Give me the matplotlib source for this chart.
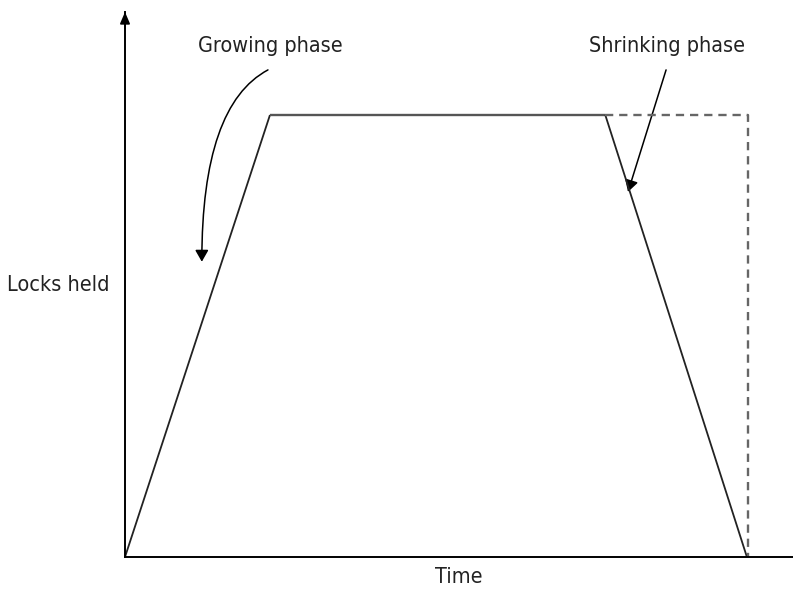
import matplotlib
matplotlib.use("Agg")
import matplotlib.pyplot as plt
from matplotlib.patches import FancyArrowPatch

plt.rcParams['font.family'] = ['DejaVu Sans']
plt.rcParams['font.stretch'] = 'condensed'

# Two-phase locking profile: locks acquired, held, then released
time_pts = [0.0, 2.17, 7.19, 9.31]
locks_pts = [0.0, 5.0, 5.0, 0.0]

# Alternative (strict) release: all locks held until the end
strict_time = [7.19, 9.33, 9.33]
strict_locks = [5.0, 5.0, 0.0]

phase_labels = ["Growing phase", "Shrinking phase"]
x_label = "Time"
y_label = "Locks held"

W, H = 793, 589
fig = plt.figure(figsize=(W / 100, H / 100), dpi=100)
ax = fig.add_axes([125 / W, 32 / H, (W - 125) / W, (557 - 12) / H])
ax.set_xlim(0, 10)
ax.set_ylim(0, 6.165)

for s in ("top", "right"):
    ax.spines[s].set_visible(False)
ax.spines["left"].set_linewidth(1.4)
ax.spines["bottom"].set_linewidth(1.4)
ax.set_xticks([])
ax.set_yticks([])
ax.patch.set_alpha(0)

# arrowhead on the vertical axis
ax.annotate("", xy=(0, 1.0), xytext=(0, 0.97), xycoords="axes fraction",
            arrowprops=dict(arrowstyle="-|>,head_length=0.7,head_width=0.3",
                            color="black", lw=1.2, shrinkA=0, shrinkB=0),
            annotation_clip=False)

ax.plot(time_pts[:2], locks_pts[:2], color="#222222", lw=1.3, solid_capstyle="butt")
ax.plot(time_pts[1:3], locks_pts[1:3], color="#555555", lw=1.7, solid_capstyle="butt")
ax.plot(time_pts[2:], locks_pts[2:], color="#222222", lw=1.3, solid_capstyle="butt")
ax.plot(strict_time, strict_locks, color="#666666", lw=1.7, ls=(0, (3.5, 2.5)))

txt = dict(fontsize=15.5, color="#222222", ha="center", va="center")
ax.text(2.17, 5.78, phase_labels[0], **txt)
ax.text(8.11, 5.78, phase_labels[1], **txt)

grow = FancyArrowPatch((2.14, 5.51), (1.15, 3.34),
                       connectionstyle="angle3,angleA=28,angleB=90",
                       arrowstyle="-|>,head_length=7,head_width=4",
                       color="black", lw=1.1, shrinkA=0, shrinkB=0)
ax.add_patch(grow)
shrink = FancyArrowPatch((8.10, 5.51), (7.53, 4.13),
                         arrowstyle="-|>,head_length=7,head_width=4",
                         color="black", lw=1.1, shrinkA=0, shrinkB=0)
ax.add_patch(shrink)

fig.text(58 / W, 1 - 285 / H, y_label, fontsize=15.5, color="#222222",
         ha="center", va="center")
fig.text(459 / W, 1 - 577 / H, x_label, fontsize=15.5, color="#222222",
         ha="center", va="center")

fig.savefig("out.png", dpi=100)
